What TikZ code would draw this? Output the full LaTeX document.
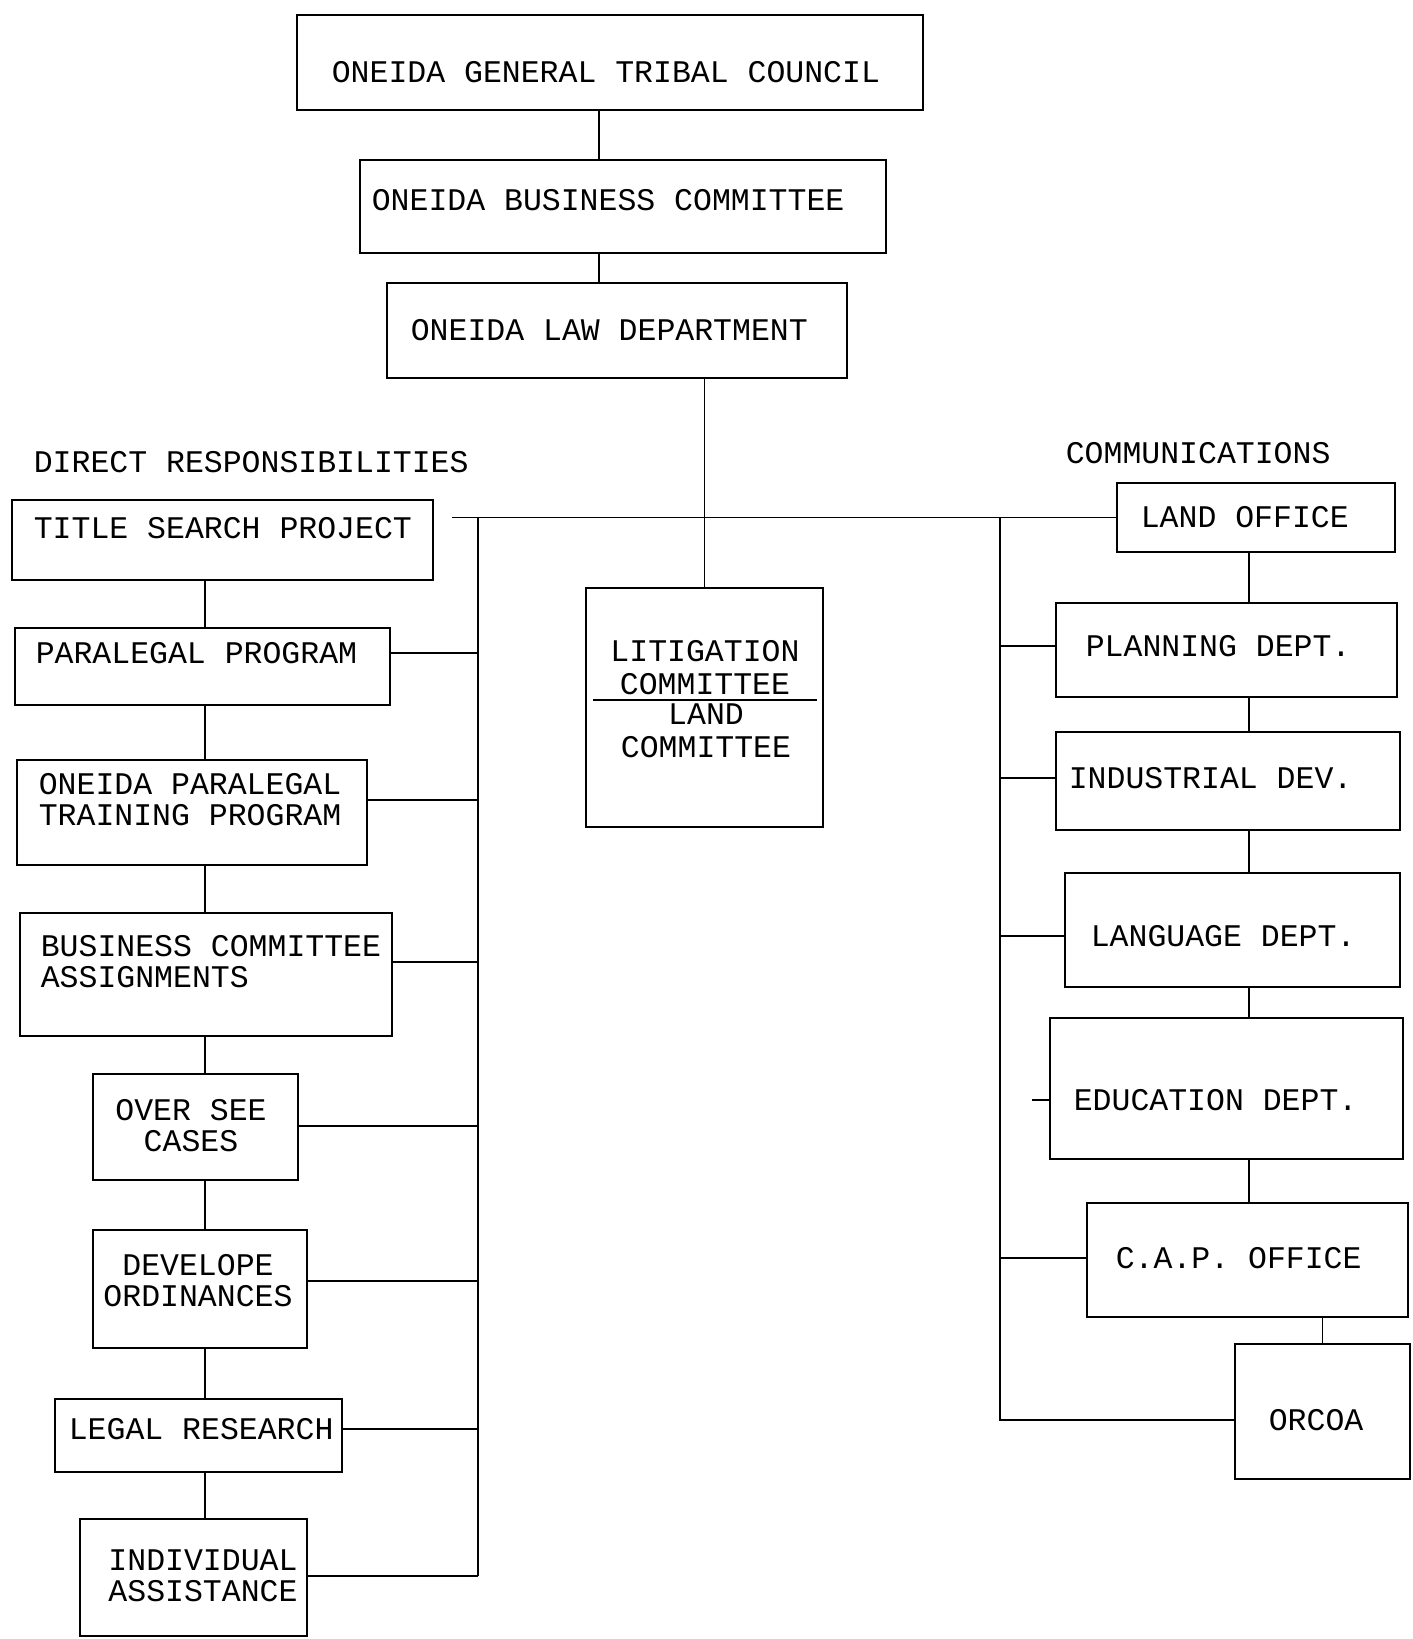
\documentclass[tikz,border=0pt]{standalone}
\usepackage{fontspec}
\setmainfont{Liberation Mono}
\usetikzlibrary{fit}

\tikzset{
  box/.style={draw, inner sep=0pt},
  lbl/.style={font=\fontsize{15.75}{15.5}\selectfont, inner sep=0pt, anchor=west, align=left},
  clbl/.style={font=\fontsize{15.75}{15.5}\selectfont, inner sep=0pt, align=center}
}

\begin{document}
\begin{tikzpicture}[x=0.5pt, y=-0.5pt, line width=0.8pt]
  \useasboundingbox (0, 0) rectangle (1413, 1639);

  % top of the chart
  \node[box, fit={(297, 15) (923, 110)}] (council) {};
  \node[box, fit={(360, 160) (886, 253)}] (business) {};
  \node[box, fit={(387, 283) (847, 378)}] (law) {};
  \node[box, fit={(586, 588) (823, 827)}] (lit) {};
  \node[lbl] (council-t) at (331, 72) {ONEIDA GENERAL TRIBAL COUNCIL};
  \node[lbl] (business-t) at (371, 200) {ONEIDA BUSINESS COMMITTEE};
  \node[lbl] (law-t) at (410, 330) {ONEIDA LAW DEPARTMENT};
  \node[clbl, font=\fontsize{15.75}{16.5}\selectfont] (lit-t) at (705, 668) {LITIGATION\\COMMITTEE};
  \node[clbl, font=\fontsize{15.75}{16.5}\selectfont] (litland-t) at (706, 731) {LAND\\COMMITTEE};
  \draw (593, 700) -- (817, 700);

  % direct responsibilities
  \node[lbl] (direct) at (33, 462) {DIRECT RESPONSIBILITIES};
  \node[box, fit={(12, 500) (433, 580)}] (title) {};
  \node[box, fit={(15, 628) (390, 705)}] (paralegal) {};
  \node[box, fit={(17, 760) (367, 865)}] (optp) {};
  \node[box, fit={(20, 913) (392, 1036)}] (bca) {};
  \node[box, fit={(93, 1074) (298, 1180)}] (osc) {};
  \node[box, fit={(93, 1230) (307, 1348)}] (devord) {};
  \node[box, fit={(55, 1399) (342, 1472)}] (legal) {};
  \node[box, fit={(80, 1519) (307, 1636)}] (indiv) {};
  \node[lbl] (title-t) at (33, 528) {TITLE SEARCH PROJECT};
  \node[lbl] (paralegal-t) at (35, 653) {PARALEGAL PROGRAM};
  \node[lbl] (optp-t) at (38, 800) {ONEIDA PARALEGAL\\TRAINING PROGRAM};
  \node[lbl] (bca-t) at (40, 962) {BUSINESS COMMITTEE\\ASSIGNMENTS};
  \node[clbl] (osc-t) at (191, 1126) {OVER SEE\\CASES};
  \node[clbl] (devord-t) at (198, 1281) {DEVELOPE\\ORDINANCES};
  \node[lbl] (legal-t) at (68, 1429) {LEGAL RESEARCH};
  \node[clbl] (indiv-t) at (203, 1576) {INDIVIDUAL\\ASSISTANCE};

  % communications
  \node[lbl] (comm) at (1065, 453) {COMMUNICATIONS};
  \node[box, fit={(1117, 483) (1395, 552)}] (landoff) {};
  \node[box, fit={(1056, 603) (1397, 697)}] (planning) {};
  \node[box, fit={(1056, 732) (1400, 830)}] (industrial) {};
  \node[box, fit={(1065, 873) (1400, 987)}] (language) {};
  \node[box, fit={(1050, 1018) (1403, 1159)}] (education) {};
  \node[box, fit={(1087, 1203) (1408, 1317)}] (cap) {};
  \node[box, fit={(1235, 1344) (1410, 1479)}] (orcoa) {};
  \node[lbl] (landoff-t) at (1140, 517) {LAND OFFICE};
  \node[lbl] (planning-t) at (1085, 646) {PLANNING DEPT.};
  \node[lbl] (industrial-t) at (1068, 778) {INDUSTRIAL DEV.};
  \node[lbl] (language-t) at (1090, 936) {LANGUAGE DEPT.};
  \node[lbl] (education-t) at (1073, 1100) {EDUCATION DEPT.};
  \node[lbl] (cap-t) at (1115, 1258) {C.A.P. OFFICE};
  \node[lbl] (orcoa-t) at (1268, 1420) {ORCOA};

  % connectors
  \coordinate (tspine) at (599, 0);
  \coordinate (lspine) at (205, 0);
  \coordinate (rspine) at (1249, 0);
  \coordinate (hstart) at (452, 0);
  \coordinate (lvert) at (478, 0);
  \coordinate (rvert) at (1000, 0);
  \coordinate (edstub) at (1032, 0);

  \draw (council.south -| tspine) -- (business.north -| tspine);
  \draw (business.south -| tspine) -- (law.north -| tspine);
  \draw (law.south -| lit.north) -- (lit.north);
  \draw (hstart |- landoff.west) -- (landoff.west);

  \draw (lvert |- landoff.west) -- (lvert |- indiv-t);
  \foreach \a/\b in {title/paralegal, paralegal/optp, optp/bca, bca/osc,
                     osc/devord, devord/legal, legal/indiv}
    \draw (\a.south -| lspine) -- (\b.north -| lspine);
  \foreach \b in {paralegal, optp, bca, osc, devord, legal, indiv}
    \draw (\b.east |- \b-t) -- (lvert |- \b-t);

  \draw (rvert |- landoff.west) -- (rvert |- orcoa-t) -- (orcoa.west |- orcoa-t);
  \foreach \a/\b in {landoff/planning, planning/industrial, industrial/language,
                     language/education, education/cap}
    \draw (\a.south -| rspine) -- (\b.north -| rspine);
  \draw (cap.south -| orcoa.north) -- (orcoa.north);
  \foreach \b in {planning, industrial, language, cap}
    \draw (rvert |- \b-t) -- (\b.west |- \b-t);
  \draw (edstub |- education-t) -- (education.west |- education-t);
\end{tikzpicture}
\end{document}
